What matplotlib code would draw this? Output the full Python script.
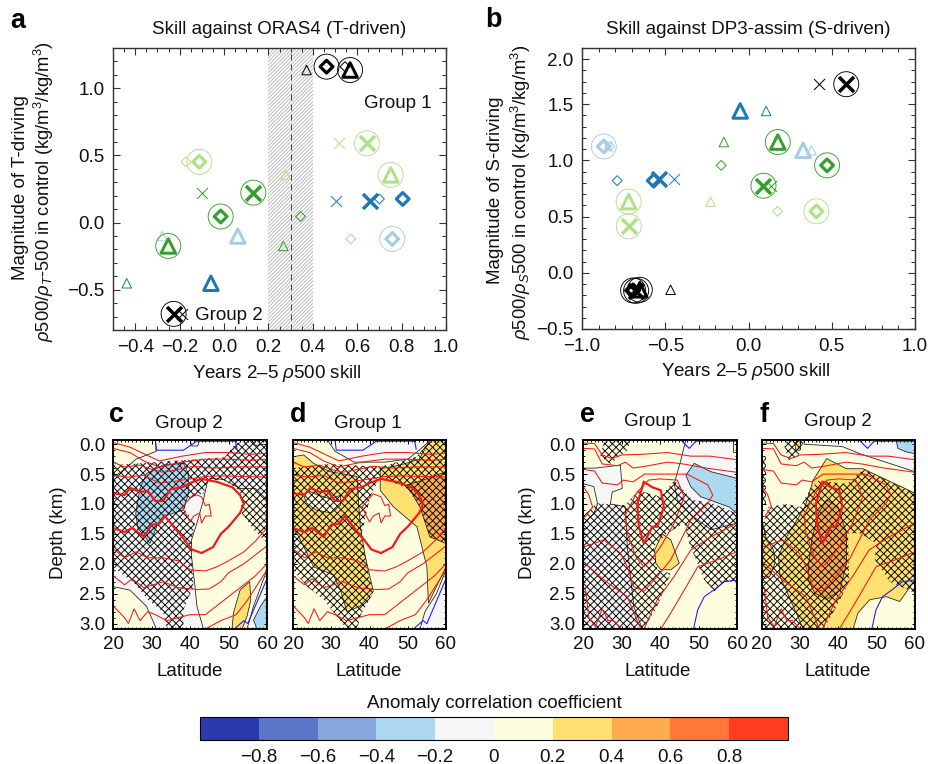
import matplotlib
matplotlib.use("Agg")
import matplotlib.pyplot as plt
from matplotlib.patches import Polygon
from matplotlib.colors import ListedColormap, BoundaryNorm
from matplotlib.colorbar import ColorbarBase
from matplotlib.ticker import MultipleLocator, FixedLocator

DPI = 88
W, H = 928, 764
PX = 72 / DPI
plt.rcParams['font.family'] = ['Liberation Sans', 'DejaVu Sans']
plt.rcParams['mathtext.fontset'] = 'custom'
plt.rcParams['mathtext.rm'] = 'Liberation Sans'
plt.rcParams['mathtext.it'] = 'Liberation Sans:italic'
plt.rcParams['mathtext.bf'] = 'Liberation Sans:bold'
plt.rcParams['hatch.linewidth'] = 0.8

K, DB, LB, DG, LG = '#000000', '#1f78b4', '#a6cee3', '#33a02c', '#b2df8a'
LEVELS = [-1, -.8, -.6, -.4, -.2, 0, .2, .4, .6, .8, 1]
CB_TICKS = [-.8, -.6, -.4, -.2, 0, .2, .4, .6, .8]
CB_LABELS = ['\u22120.8', '\u22120.6', '\u22120.4', '\u22120.2', '0', '0.2', '0.4', '0.6', '0.8']
ACC = ['#2c3ab0', '#5a76c6', '#86a8dc', '#acd8f0', '#f6f6f6', '#fffde0', '#ffe070', '#ffac50', '#ff7838', '#ff3e1f']
GREY, CREAM, GOLD, ORANGE, SKY = ACC[4], ACC[5], ACC[6], ACC[7], ACC[3]

# ---- panel a: skill, magnitude; (colour, x, y, circled)
a_tri_thin_c = [K, DB, LB, DG, LG]
a_tri_thin_x = [0.372, -0.438, -0.278, 0.267, 0.278]
a_tri_y = [1.136, -0.452, -0.10, -0.174, 0.355]
a_tri_x = [0.568, -0.059, 0.062, -0.251, 0.751]
a_tri_ring = [1, 0, 0, 1, 1]
a_dia_thin_x = [0.545, 0.70, 0.571, 0.345, -0.171]
a_dia_y = [1.161, 0.176, -0.122, 0.045, 0.452]
a_dia_x = [0.462, 0.805, 0.758, -0.015, -0.111]
a_dia_ring = [1, 0, 1, 1, 1]
a_x_c = [K, DB, DG, LG]
a_x_thin_x = [-0.19, 0.503, -0.10, 0.52]
a_x_y = [-0.68, 0.161, 0.223, 0.59]
a_x_x = [-0.227, 0.658, 0.132, 0.644]
a_x_ring = [1, 0, 1, 1]

# ---- panel b
b_tri_thin_x = [-0.468, 0.106, 0.378, -0.148, -0.228]
b_tri_y = [-0.151, 1.44, 1.09, 1.163, 0.633]
b_tri_x = [-0.653, -0.05, 0.328, 0.176, -0.72]
b_tri_ring = [1, 0, 0, 1, 1]
b_dia_thin_x = [-0.717, -0.789, -0.833, -0.164, 0.174]
b_dia_y = [-0.157, 0.82, 1.124, 0.956, 0.547]
b_dia_x = [-0.693, -0.569, -0.869, 0.472, 0.408]
b_dia_ring = [1, 0, 1, 1, 1]
b_x_c = [K, DB, LB, DG, LG]
b_x_thin_x = [0.424, -0.446, -0.85, 0.138, -0.719]
b_x_thin_y = [1.678, 0.834, 1.124, 0.77, 0.414]
b_x_x = [0.587, -0.537, -0.675, 0.09, -0.719]
b_x_y = [1.678, 0.834, -0.16, 0.775, 0.414]
b_x_ring = [1, 0, 1, 1, 1]
b_x_col = [K, DB, K, DG, LG]

# ---- depth/latitude panels: outlines as (lat, depth km)
c_fills = [
    (GREY, [(20, -.07), (60, -.07), (60, 3.09), (20, 3.09)]),
    (CREAM, [(20, -.07), (31, -.07), (31.2, .12), (26, .25), (22, .47), (20, .55)]),
    (CREAM, [(40, -.07), (42.5, -.07), (42, .03), (40.5, .03)]),
    (CREAM, [(56, -.07), (60, -.07), (60, 0), (57, .02)]),
    (CREAM, [(43.5, .93), (44.4, .66), (45.2, .57), (48.7, .59), (53, .74), (57, .74), (60, .93), (60, 2.1),
             (56.5, 2.71), (54.8, 3.09), (43.5, 3.09), (41.8, 2.71), (41.3, 2.38), (40.4, 1.88), (40.4, 1.6), (41.8, 1.32)]),
    (GOLD, [(50.9, 3.09), (51.3, 2.82), (53, 2.44), (55.5, 2.3), (55.8, 2.6), (54.8, 2.88), (53.5, 3.09)]),
    (SKY, [(57.4, 3.09), (56.5, 2.94), (58.3, 2.71), (60, 2.55), (60, 3.09)]),
    (SKY, [(27, .74), (28.7, .49), (33, .35), (38.3, .32), (39.6, .49), (39.6, .82), (38.3, 1.1), (33, 1.21),
           (31.7, 1.32), (29.6, 1.66), (28.3, 1.55), (26.5, 1.41), (25.9, 1.16)]),
    (CREAM, [(20, 2.38), (24.4, 2.44), (28.7, 2.71), (31.3, 3.09), (20, 3.09)]),
]
c_hatch = [[(20, .35), (27, .32), (39.6, .26), (49, .22), (51.8, -.01), (55.5, -.07), (60, -.07), (60, 1.65),
            (56.5, 1.43), (53.5, 1.16), (53, .78), (48.7, .6), (44.8, .6), (43.5, .82), (39.1, .93), (38.7, 1.1),
            (41.3, 1.32), (40.4, 1.6), (40.4, 1.82), (40.9, 2.38), (38.3, 2.77), (38.3, 3.09), (33.9, 3.09),
            (33, 2.8), (29, 2.6), (26, 2.35), (20, 2.05)]]

d_fills = [
    (CREAM, [(20, -.07), (60, -.07), (60, 3.09), (20, 3.09)]),
    (GREY, [(29, -.07), (31, .12), (36, .3), (44, .3), (50, .25), (53, .1), (56, -.07)]),
    (GREY, [(53.2, 3.09), (54.5, 2.8), (57.5, 2.5), (60, 2.1), (60, 3.09)]),
    (GOLD, [(20, .21), (22.8, .18), (25.4, .32), (29.7, .46), (32.4, .49), (36.7, .54), (37.1, .93), (37.6, 1.38),
            (38.9, 1.88), (41, 2.46), (37.5, 2.71), (34.1, 2.8), (32.4, 2.44), (30.6, 2.19), (25.4, 2.05),
            (22.8, 1.71), (21, 1.49), (20, 1.43)]),
    (CREAM, [(22.8, .85), (24, .78), (26.5, .85), (30, .92), (32.4, .85), (32.4, 1.02), (30, 1.15), (26, 1.1), (23.5, .98)]),
    (GOLD, [(42.8, .41), (48, .35), (53, .25), (55.8, -.07), (60, -.07), (60, 2.05), (55.4, 2.66), (55, 2.05),
            (52.4, 1.38), (46.3, 1.05), (42.8, .77)]),
    (ORANGE, [(49.8, .68), (54, .6), (60, .46), (60, 1.66), (55.8, 1.55), (53.2, 1.05)]),
]
d_hatch = [[(20, .4), (29.7, .33), (42.8, .38), (52.4, .21), (55.8, -.07), (60, -.07), (60, 1.66), (55.8, 1.55),
            (53.2, 1.05), (49.8, .74), (42.8, .54), (40.2, .88), (38, 1.49), (39.7, 2.16), (41, 2.49), (38, 2.82),
            (36.7, 3.09), (34.1, 3.09), (28, 2.6), (23.7, 2.38), (20, 2.1)]]

e_fills = [
    (CREAM, [(20, -.07), (60, -.07), (60, 3.09), (20, 3.09)]),
    (GREY, [(20, .4), (23.2, .4), (29.7, .35), (30.2, .74), (27.6, .8), (27.1, 1.0), (31, 1.05), (31.5, 1.72),
            (33.2, 2.71), (35.4, 3.09), (20, 3.09), (20, 1.35), (22.8, 1.16), (23.8, 1.0), (22.8, .71), (20, .66)]),
    (GREY, [(46.7, -.07), (60, -.07), (60, 1.32), (53.2, 1.43), (48, 1.18), (44.5, .93), (43.7, .66), (45.4, .27)]),
    (CREAM, [(58.9, -.07), (60, -.07), (60, .13), (58.9, .13)]),
    (SKY, [(46.7, .52), (48.9, .32), (53.2, .46), (60, .57), (60, 1.16), (58, 1.05), (54.1, .96), (50.6, .88), (48, .71)]),
    (GOLD, [(38.6, 1.77), (40.6, 1.5), (42.8, 1.6), (45, 1.99), (42.8, 2.1), (40.2, 2.1), (38.9, 1.99)]),
]
e_hatch = [[(20, 1.2), (23.7, .99), (31, 1.02), (34.5, .77), (40.2, .88), (43.7, .6), (48.4, .93), (53.7, .99),
            (60, 1.16), (60, 2.3), (56.7, 2.3), (54.1, 2.46), (51.5, 2.27), (47.6, 1.66), (46.3, 1.32), (41.9, 1.49),
            (38.4, 1.71), (39.3, 2.1), (42.8, 2.16), (39.3, 2.71), (35.8, 3.09), (20, 3.09)],
           [(25.4, -.04), (32.4, -.07), (31.5, .1), (27.1, .33), (24.5, .2)]]

f_fills = [
    (CREAM, [(20, -.07), (60, -.07), (60, 3.09), (20, 3.09)]),
    (GREY, [(31, -.07), (31, 0), (41, .04), (45.6, .16), (60, .46), (60, -.07)]),
    (SKY, [(55.1, -.07), (60, -.07), (60, .16), (57.8, .13), (55.5, .07)]),
    (GOLD, [(28.6, -.02), (30, -.07), (30, .1), (28.8, .1)]),
    (GOLD, [(36.9, .24), (42.1, .41), (46.4, .41), (60, .82), (60, 2.27), (56, 2.63), (52.5, 2.55), (48.2, 2.6),
            (45.1, 2.82), (43.8, 3.09), (30.8, 3.09), (24.7, 2.21), (24.3, 1.88), (26.4, 1.55), (31.2, 1.05), (33.4, .6)]),
    (GOLD, [(20, 1.27), (21.2, 1.6), (23, 1.77), (23.4, 1.99), (22, 2.21), (20, 2.27)]),
    (ORANGE, [(32.1, 2.05), (33, 1.6), (34.7, 1.16), (36.9, .93), (39.9, 1.05), (42.1, 1.49), (42.1, 1.99),
              (40.4, 2.44), (36.9, 2.6), (33.8, 2.49), (32.1, 2.27)]),
]
f_hatch = [[(20, 1.4), (21.7, 1.05), (26.4, 1.0), (30, 1.05), (32.5, .75), (35, .6), (41, .66), (42.5, .65), (46.4, .42),
            (60, .82), (60, 2.49), (53.4, 2.3), (49.5, 1.93), (49.9, 1.66), (45.6, 1.49), (42.5, 1.49), (42.8, 2.3),
            (38.6, 2.82), (36, 3.09), (20, 3.09)],
           [(25.5, -.04), (31, -.07), (29.5, .2), (27, .27)],
           [(20, .2), (21, .2), (21, 1.0), (20, 1.0)]]

# control-state density contours shared by panels c/d and e/f
cd_red_thin = [
    [(20, -.03), (24.4, .05), (28.7, .18), (32, .28), (38, .20), (44, .14), (50, .14), (56, .17), (60, .15)],
    [(20, .07), (24.4, .14), (28, .28), (32, .38), (38, .30), (44, .25), (50, .25), (56, .27), (60, .25)],
    [(20, .3), (23, .38), (27, .35), (30, .42), (33, .47), (37, .42), (41, .37), (46, .40), (52, .38), (60, .38)],
    [(20, .52), (24, .55), (28, .52), (32, .65), (36, .62), (40, .58), (44, .54), (48, .53), (54, .54), (60, .55)],
    [(38, 1.05), (41, .83), (43, .88), (44, 1.03), (45, 1.0), (45.5, 1.2), (44, 1.2), (43, 1.32), (42.5, 1.15), (41, 1.2), (40, 1.3), (38, 1.05)],
    [(20, 1.75), (23, 1.9), (26, 1.8), (29, 1.9), (33, 1.9), (37, 1.95), (40, 2.1), (44, 2.12), (47, 2.05), (50, 1.95), (54, 1.8), (57, 1.62), (60, 1.4)],
    [(20, 2.2), (23, 2.35), (25, 2.25), (28, 2.4), (33, 2.3), (37, 2.4), (42, 2.43), (45, 2.42), (48, 2.3), (50, 2.15), (54, 2.0), (57, 1.85), (60, 1.7)],
    [(20, 2.7), (23, 2.9), (24, 3.0), (25.5, 2.75), (27, 2.95), (29, 2.8), (31, 2.85), (34, 2.95), (40, 2.85), (44, 2.85), (47, 2.7), (50, 2.55), (54, 2.35), (57, 2.2), (60, 2.0)],
    [(44, 3.09), (48, 2.95), (52, 2.85), (55, 2.6), (57, 2.4), (60, 2.1)],
]
cd_red_thick = [[(20, .82), (23, .85), (24.5, .73), (27, .80), (29, .78), (31, .95), (33, .95), (35, .75), (38, .72), (40, .65),
                 (43, .58), (47, .63), (51, .72), (53, .85), (54, 1.0), (53, 1.15), (50, 1.38), (48, 1.5), (46, 1.72), (43, 1.82),
                 (40.5, 1.76), (38, 1.55), (36, 1.4), (33.5, 1.2), (32, 1.33), (30, 1.35), (28, 1.55), (25, 1.4), (23, 1.47), (20, 1.4)]]
cd_blue = [[(31, -.07), (31.3, .1), (38.3, .1), (41.8, -.05), (51.8, -.05), (52.2, .08)],
           [(51.5, 3.09), (54, 2.95), (55, 3.0), (57, 2.7), (58, 2.55), (60, 2.25)]]
ef_red_thin = [
    [(20, -.02), (23, -.01), (25, .18), (27.5, .24), (30, .18), (35, .17), (42, .14), (48, .2), (53, .2), (60, .26)],
    [(20, .07), (23, .08), (25, .33), (29, .36), (31, .3), (33, .4), (37, .36), (42, .3), (46, .33), (52, .4), (60, .47)],
    [(31, 1.18), (34.1, .8), (37, .6), (40, .58), (44.5, .6), (46.3, .88), (43.7, 1.32), (40.2, 1.71), (37.6, 1.94), (35.8, 2.05), (33.7, 1.88), (31.5, 1.49), (31, 1.18)],
    [(20, 1.72), (22.8, 1.66), (25.4, 1.6), (29.7, 1.82), (31.5, 2.05), (33.2, 2.38), (35.8, 2.46), (39.3, 2.21), (42.8, 1.93), (46.3, 1.49), (48, 1.27), (52.4, .99), (53.7, .85), (52.4, .68), (47, .5), (40, .5), (36, .5), (33, .63), (30.5, .6), (29, .68), (25, .65), (23, .45), (20, .42)],
    [(20, 1.96), (25.4, 2.27), (31.5, 2.55), (35, 3.09)],
    [(20.6, 2.4), (21.5, 2.9), (23.2, 3.05), (25, 2.75), (26.5, 2.95), (28, 2.95), (30, 3.09)],
    [(35.8, 3.09), (39.3, 2.6), (43.7, 2.21), (48, 1.77), (53.2, 1.55), (60, 1.32)],
    [(40.2, 3.09), (42.8, 2.82), (46.3, 2.44), (49.8, 2.05), (55, 1.93), (60, 1.8)],
    [(20, .7), (21.5, .85), (22.5, 1.05), (20.8, 1.2)],
]
ef_red_thick = [[(34.1, 1.0), (35.8, .63), (38, .72), (40.2, .77), (41, 1.05), (39.3, 1.38), (38, 1.38), (35.8, 1.66), (34.5, 1.38), (34.1, 1.0)]]
ef_blue = [[(45.4, -.07), (47.6, .07), (49.3, -.05), (60, -.05)],
           [(48.7, 3.09), (49.8, 2.77), (51.5, 2.55), (54.1, 2.43), (56.7, 2.3), (60, 2.27)]]

XT = [20, 30, 40, 50, 60]
DT = [0, .5, 1, 1.5, 2, 2.5, 3]
ATICKS = [-.4, -.2, 0, .2, .4, .6, .8, 1.0]
AYT = [-.5, 0, .5, 1]
BXT = [-1, -.5, 0, .5, 1]
BYT = [-.5, 0, .5, 1, 1.5, 1.9]
BYL = ['\u22120.5', '0.0', '0.5', '1.0', '1.5', '2.0']

FS = 18.7 * PX
fig = plt.figure(figsize=(W / DPI, H / DPI), dpi=DPI, facecolor='white')


def ax_px(x0, x1, y0, y1):
    return fig.add_axes([x0 / W, 1 - y1 / H, (x1 - x0) / W, (y1 - y0) / H])


def t(x, y, s, **kw):
    kw.setdefault('ha', 'center')
    kw.setdefault('va', 'center')
    kw.setdefault('fontsize', FS)
    kw.setdefault('color', '#111111')
    fig.text(x / W, 1 - y / H, s, **kw)


def pts(ax, xs, ys, cols, marker, size, lw):
    for x, y, c in zip(xs, ys, cols):
        ax.scatter([x], [y], s=(size * PX) ** 2, marker=marker, facecolors='none' if marker != 'x' else None,
                   edgecolors=c if marker != 'x' else None, c=c if marker == 'x' else None,
                   linewidths=lw * PX, zorder=4, clip_on=False)


def rings(ax, xs, ys, cols, flags):
    for x, y, c, f in zip(xs, ys, cols, flags):
        if f:
            ax.scatter([x], [y], s=(25 * PX) ** 2, marker='o', facecolors='none', edgecolors=c,
                       linewidths=0.9 * PX, zorder=4, clip_on=False)


def skill_axes(ax):
    for s in ax.spines.values():
        s.set_linewidth(1.1 * PX * 1.3)
        s.set_color('#333333')
    ax.tick_params(which='both', direction='in', top=True, right=True, labelsize=FS, color='#333333', pad=7, labelcolor='#111111')
    ax.tick_params(which='major', length=7 * PX, width=1.1 * PX)
    ax.tick_params(which='minor', length=4 * PX, width=1.0 * PX)


# ---- panel a
axa = ax_px(113, 446, 48, 330)
axa.set_xlim(-.5, 1.0)
axa.set_ylim(-.8, 1.3)
skill_axes(axa)
axa.xaxis.set_major_locator(FixedLocator(ATICKS))
axa.xaxis.set_minor_locator(MultipleLocator(.05))
axa.yaxis.set_major_locator(FixedLocator(AYT))
axa.yaxis.set_minor_locator(MultipleLocator(.1))
axa.set_xticklabels(['\u22120.4', '\u22120.2', '0.0', '0.2', '0.4', '0.6', '0.8', '1.0'])
axa.set_yticklabels(['\u22120.5', '0.0', '0.5', '1.0'])
axa.axvspan(.2, .4, facecolor='none', edgecolor='#bdbdbd', hatch='////////', linewidth=0, zorder=1)
axa.axvline(.3, color='#444444', lw=1.0 * PX, dashes=(6, 4), zorder=2)
cols5 = a_tri_thin_c
pts(axa, a_tri_thin_x, a_tri_y, cols5, '^', 9.5, 1.0)
pts(axa, a_dia_thin_x, a_dia_y, cols5, 'D', 7, 1.0)
pts(axa, a_x_thin_x, a_x_y, a_x_c, 'x', 11, 1.0)
pts(axa, a_tri_x, a_tri_y, cols5, '^', 14.5, 3.0)
pts(axa, a_dia_x, a_dia_y, cols5, 'D', 9, 3.2)
pts(axa, a_x_x, a_x_y, a_x_c, 'x', 15, 3.5)
rings(axa, a_tri_x, a_tri_y, cols5, a_tri_ring)
rings(axa, a_dia_x, a_dia_y, cols5, a_dia_ring)
rings(axa, a_x_x, a_x_y, a_x_c, a_x_ring)
axa.text(.784, .883, 'Group 1', ha='center', va='center', fontsize=FS, color='#111111')
axa.text(.022, -.694, 'Group 2', ha='center', va='center', fontsize=FS, color='#111111')

# ---- panel b
axb = ax_px(582, 915, 48, 329)
axb.set_xlim(-1, 1)
axb.set_ylim(-.5, 2.0)
skill_axes(axb)
axb.xaxis.set_major_locator(FixedLocator(BXT))
axb.xaxis.set_minor_locator(MultipleLocator(.1))
axb.yaxis.set_major_locator(FixedLocator(BYT))
axb.yaxis.set_minor_locator(MultipleLocator(.1))
axb.set_xticklabels(['\u22121.0', '\u22120.5', '0.0', '0.5', '1.0'])
axb.set_yticklabels(BYL)
pts(axb, b_tri_thin_x, b_tri_y, cols5, '^', 9.5, 1.0)
pts(axb, b_dia_thin_x, b_dia_y, cols5, 'D', 7, 1.0)
pts(axb, b_x_thin_x, b_x_thin_y, b_x_c, 'x', 11, 1.0)
pts(axb, b_tri_x, b_tri_y, cols5, '^', 14.5, 3.0)
pts(axb, b_dia_x, b_dia_y, cols5, 'D', 9, 3.2)
pts(axb, b_x_x, b_x_y, b_x_col, 'x', 15, 3.5)
rings(axb, b_tri_x, b_tri_y, cols5, b_tri_ring)
rings(axb, b_dia_x, b_dia_y, cols5, b_dia_ring)
rings(axb, b_x_x, b_x_y, b_x_col, b_x_ring)


# ---- section panels
def section(px, fills, hatches, thin, thick, blue, ylab):
    ax = ax_px(px[0], px[1], 440, 629)
    ax.set_xlim(20, 60)
    ax.set_ylim(3.09, -.07)
    for col, poly in fills:
        ax.add_patch(Polygon(poly, closed=True, facecolor=col, edgecolor='#222222', linewidth=.8 * PX, zorder=1))
    for poly in hatches:
        ax.add_patch(Polygon(poly, closed=True, fill=False, edgecolor='#111111', hatch='xxxx', linewidth=0, zorder=2))
    for ln in thin:
        ax.plot(*zip(*ln), color='#f01a1a', lw=1.05 * PX, zorder=3, solid_joinstyle='miter')
    for ln in thick:
        ax.plot(*zip(*ln), color='#f01a1a', lw=2.2 * PX, zorder=3, solid_joinstyle='miter')
    for ln in blue:
        ax.plot(*zip(*ln), color='#1a1aee', lw=1.05 * PX, zorder=3)
    for s in ax.spines.values():
        s.set_linewidth(1.9 * PX)
        s.set_zorder(6)
    ax.set_xticks(XT)
    ax.xaxis.set_minor_locator(MultipleLocator(1))
    ax.set_yticks(DT)
    ax.yaxis.set_minor_locator(MultipleLocator(.1))
    ax.tick_params(which='both', direction='in', top=True, right=True, labelsize=FS, labelcolor='#111111', pad=6, zorder=6)
    ax.tick_params(which='major', length=3.5 * PX, width=1.0 * PX)
    ax.tick_params(which='minor', length=2 * PX, width=.9 * PX)
    if ylab:
        ax.set_yticklabels(['0.0', '0.5', '1.0', '1.5', '2.0', '2.5', '3.0'])
    else:
        ax.tick_params(labelleft=False)
    ax.set_xticklabels(['20', '30', '40', '50', '60'])
    return ax


section((113, 267), c_fills, c_hatch, cd_red_thin, cd_red_thick, cd_blue, True)
section((293, 446), d_fills, d_hatch, cd_red_thin, cd_red_thick, cd_blue, False)
section((583, 737), e_fills, e_hatch, ef_red_thin, ef_red_thick, ef_blue, True)
section((762, 915), f_fills, f_hatch, ef_red_thin, ef_red_thick, ef_blue, False)

# ---- colour bar
cax = ax_px(200, 788, 717, 740)
cb = ColorbarBase(cax, cmap=ListedColormap(ACC), norm=BoundaryNorm(LEVELS, 10), orientation='horizontal',
                  spacing='uniform', ticks=CB_TICKS, drawedges=False)
cb.set_ticklabels(CB_LABELS)
cb.ax.tick_params(length=0, labelsize=FS, pad=7, labelcolor='#111111')
cb.ax.minorticks_off()
cb.outline.set_linewidth(1.1 * PX)

# ---- texts
t(279, 29, 'Skill against ORAS4 (T-driven)')
t(748, 29, 'Skill against DP3-assim (S-driven)')
t(277, 374, 'Years 2\u20135 $\\rho$500 skill')
t(746, 372, 'Years 2\u20135 $\\rho$500 skill')
t(21, 188, 'Magnitude of T-driving', rotation=90)
t(44, 192, '$\\rho$500/$\\rho_T$-500 in control (kg/m$^3$/kg/m$^3$)', rotation=90, fontsize=FS * .98)
t(496, 190, 'Magnitude of S-driving', rotation=90)
t(521, 192, '$\\rho$500/$\\rho_S$500 in control (kg/m$^3$/kg/m$^3$)', rotation=90, fontsize=FS * .98)
t(189, 424, 'Group 2')
t(368, 424, 'Group 1')
t(658, 421, 'Group 1')
t(838, 421, 'Group 2')
for cx in (190, 369, 658, 838):
    t(cx, 671, 'Latitude')
t(59, 533, 'Depth (km)', rotation=90)
t(528, 533, 'Depth (km)', rotation=90)
t(494, 703, 'Anomaly correlation coefficient')
for x, y, s in [(18, 21, 'a'), (493, 20, 'b'), (117, 415, 'c'), (298, 415, 'd'), (587, 415, 'e'), (764, 415, 'f')]:
    t(x, y, s, fontsize=27 * PX, fontweight='bold', color='black')

fig.savefig('out.png', dpi=DPI, facecolor='white')
